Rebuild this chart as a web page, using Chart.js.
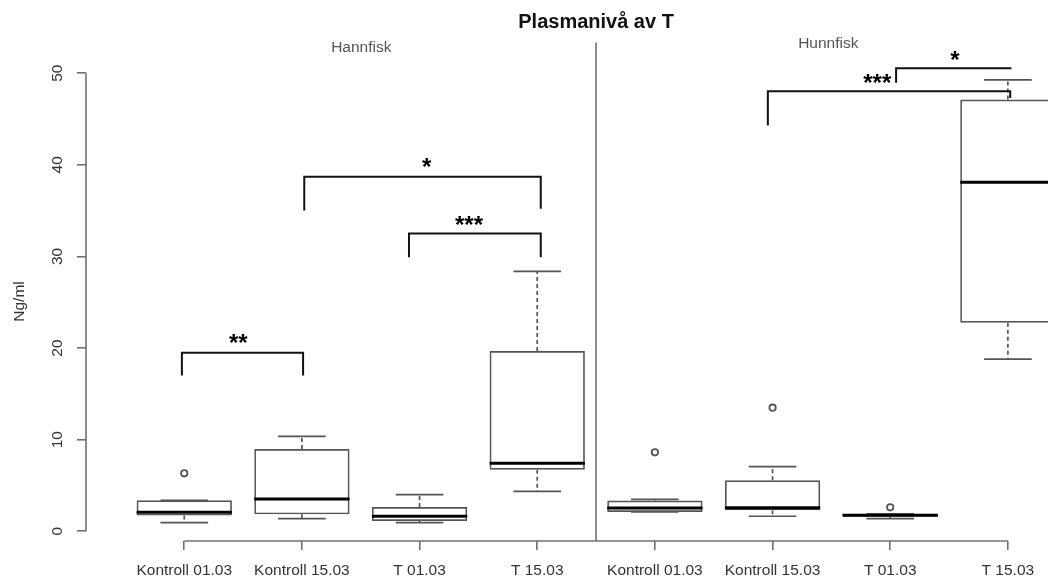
<!DOCTYPE html>
<html>
<head>
<meta charset="utf-8">
<script src="https://cdn.jsdelivr.net/npm/chart.js@4.4.0/dist/chart.umd.min.js"></script>
<style>
html,body{margin:0;padding:0;background:#ffffff;}
#wrap{width:1048px;height:580px;}
</style>
</head>
<body>
<div id="wrap"><canvas id="c" width="1048" height="580"></canvas></div>
<script>
// ---- data ----
const categories = ['Kontroll 01.03','Kontroll 15.03','T 01.03','T 15.03','Kontroll 01.03','Kontroll 15.03','T 01.03','T 15.03'];
const positions  = [1,2,3,4,5,6,7,8];
const panels     = ['Hannfisk','Hunnfisk'];
const chartTitle = 'Plasmanivå av T';
const yTitle     = 'Ng/ml';
const whiskerLow  = [0.95, 1.38, 0.95, 4.36, 2.11, 1.64, 1.38, 18.80];
const quartile1   = [1.71, 1.85, 1.13, 6.73, 2.11, 2.29, 1.60, 22.77];
const medians     = [2.07, 3.53, 1.64, 7.42, 2.55, 2.58, 1.75, 38.10];
const quartile3   = [3.38, 8.98, 2.65, 19.67, 3.35, 5.56, 1.89, 47.13];
const whiskerHigh = [3.38, 10.36, 4.00, 28.36, 3.49, 7.06, 1.89, 49.27];
const outlierGroup = [1, 5, 6, 7];
const outlierValue = [6.33, 8.62, 13.49, 2.62];
const yTicks = [0, 10, 20, 30, 40, 50];
// significance brackets: groups (x), bar height, leg ends, label and label anchor
const bracketX1    = [0.98, 2.02, 2.91, 5.96, 7.05];
const bracketX2    = [2.01, 4.03, 4.03, 8.02, 8.03];
const bracketTop   = [19.5, 38.7, 32.5, 48.03, 50.54];
const bracketLeftEnd  = [17.0, 35.0, 29.9, 44.3, 48.95];
const bracketRightEnd = [17.0, 35.2, 29.9, 47.3, 50.54];
const bracketLabel = ['**', '*', '***', '***', '*'];
const bracketLabelX = [1.46, 3.06, 3.42, 6.89, 7.55];
const bracketLabelY = [21.15, 40.39, 34.01, 49.56, 52.06];

const FONT = '"Liberation Sans", Arial, Helvetica, sans-serif';
const BOXCOL = '#555555';
const AXCOL = '#707070';

const boxPlugin = {
  id: 'boxExtras',
  afterDatasetsDraw(chart) {
    const {ctx, chartArea: a, scales: {x, y}} = chart;
    const meta = chart.getDatasetMeta(0);
    const seg = (x1, y1, x2, y2) => { ctx.beginPath(); ctx.moveTo(x1, y1); ctx.lineTo(x2, y2); ctx.stroke(); };

    ctx.save();
    ctx.beginPath(); ctx.rect(a.left, 0, a.right - a.left, chart.height); ctx.clip();
    positions.forEach((p, i) => {
      const bar = meta.data[i];
      const cx = x.getPixelForValue(p);
      const half = bar.width / 2;
      ctx.strokeStyle = BOXCOL; ctx.lineWidth = 1.7;
      // whiskers (dashed)
      ctx.setLineDash([4, 3]);
      if (whiskerHigh[i] > quartile3[i]) seg(cx, y.getPixelForValue(quartile3[i]), cx, y.getPixelForValue(whiskerHigh[i]));
      if (whiskerLow[i] < quartile1[i]) seg(cx, y.getPixelForValue(quartile1[i]), cx, y.getPixelForValue(whiskerLow[i]));
      ctx.setLineDash([]);
      // staples
      const yh = y.getPixelForValue(whiskerHigh[i]);
      const yl = y.getPixelForValue(whiskerLow[i]);
      seg(cx - half / 2, yh, cx + half / 2, yh);
      seg(cx - half / 2, yl, cx + half / 2, yl);
      // median
      ctx.strokeStyle = '#000'; ctx.lineWidth = 3;
      const ym = y.getPixelForValue(medians[i]);
      seg(cx - half, ym, cx + half, ym);
    });
    ctx.restore();

    ctx.save();
    // axis lines (R style: from first to last tick)
    ctx.strokeStyle = AXCOL; ctx.lineWidth = 1.6;
    seg(a.left, y.getPixelForValue(yTicks[0]), a.left, y.getPixelForValue(yTicks[yTicks.length - 1]));
    seg(x.getPixelForValue(positions[0]), a.bottom, x.getPixelForValue(positions[positions.length - 1]), a.bottom);
    // panel divider
    const xd = x.getPixelForValue(4.5);
    seg(xd, y.getPixelForValue(53.35), xd, a.bottom);

    // brackets
    ctx.strokeStyle = '#111'; ctx.lineWidth = 2;
    bracketX1.forEach((bx, i) => {
      const x1 = x.getPixelForValue(bx), x2 = x.getPixelForValue(bracketX2[i]);
      ctx.beginPath();
      ctx.moveTo(x1, y.getPixelForValue(bracketLeftEnd[i]));
      ctx.lineTo(x1, y.getPixelForValue(bracketTop[i]));
      ctx.lineTo(x2, y.getPixelForValue(bracketTop[i]));
      ctx.lineTo(x2, y.getPixelForValue(bracketRightEnd[i]));
      ctx.stroke();
    });
    ctx.fillStyle = '#000';
    ctx.font = 'bold 24px ' + FONT;
    ctx.textAlign = 'center'; ctx.textBaseline = 'alphabetic';
    bracketLabel.forEach((t, i) => {
      ctx.fillText(t, x.getPixelForValue(bracketLabelX[i]), y.getPixelForValue(bracketLabelY[i]) + 13.5);
    });

    // title
    ctx.font = 'bold 20px ' + FONT;
    ctx.textBaseline = 'middle';
    ctx.fillStyle = '#111';
    ctx.fillText(chartTitle, x.getPixelForValue(4.5), 22);
    // panel labels
    ctx.font = '15.5px ' + FONT;
    ctx.fillStyle = '#555555';
    ctx.fillText(panels[0], x.getPixelForValue(2.505), y.getPixelForValue(52.83));
    ctx.fillText(panels[1], x.getPixelForValue(6.474), y.getPixelForValue(53.2));
    ctx.restore();
  }
};

new Chart(document.getElementById('c').getContext('2d'), {
  type: 'bar',
  data: {
    datasets: [
      {
        type: 'bar',
        label: 'box',
        data: positions.map((p, i) => ({x: p, y: [quartile1[i], quartile3[i]]})),
        backgroundColor: 'rgba(255,255,255,0)',
        borderColor: BOXCOL,
        borderWidth: 1.7,
        borderSkipped: false,
        categoryPercentage: 1.0,
        barPercentage: 0.81
      },
      {
        type: 'scatter',
        label: 'outliers',
        data: outlierGroup.map((g, i) => ({x: g, y: outlierValue[i]})),
        pointRadius: 3.2,
        pointBorderWidth: 1.8,
        pointBorderColor: '#555555',
        pointBackgroundColor: '#ffffff'
      }
    ]
  },
  options: {
    responsive: false,
    animation: false,
    devicePixelRatio: 1,
    layout: {autoPadding: false, padding: {top: 62, left: 0, right: 0, bottom: 0}},
    plugins: {legend: {display: false}, tooltip: {enabled: false}, title: {display: false}},
    scales: {
      x: {
        type: 'linear', min: 0.165, max: 8.341, offset: false,
        grid: {display: true, drawOnChartArea: false, drawTicks: true, tickLength: 9, color: AXCOL, lineWidth: 1.6, offset: false},
        border: {display: false},
        afterBuildTicks: s => { s.ticks = positions.map(v => ({value: v})); },
        ticks: {
          callback: (v, idx) => categories[idx],
          autoSkip: false, minRotation: 0, maxRotation: 0, padding: 11,
          font: {family: FONT, size: 15.5}, color: '#333333'
        },
        afterFit: s => { s.height = 39; s.paddingLeft = 0; s.paddingRight = 0; }
      },
      y: {
        type: 'linear', min: -1.06, max: 51.22,
        grid: {drawOnChartArea: false, drawTicks: true, tickLength: 9, color: AXCOL, lineWidth: 1.6},
        border: {display: false},
        afterBuildTicks: s => { s.ticks = yTicks.map(v => ({value: v})); },
        ticks: {
          minRotation: 90, maxRotation: 90, crossAlign: 'center', padding: 11,
          font: {family: FONT, size: 15.5}, color: '#333333'
        },
        title: {display: true, text: yTitle, font: {family: FONT, size: 15.5}, color: '#333333', padding: {top: 10, bottom: 0}},
        afterFit: s => { s.width = 86; s.paddingTop = 0; s.paddingBottom = 0; }
      }
    }
  },
  plugins: [boxPlugin]
});
</script>
</body>
</html>
